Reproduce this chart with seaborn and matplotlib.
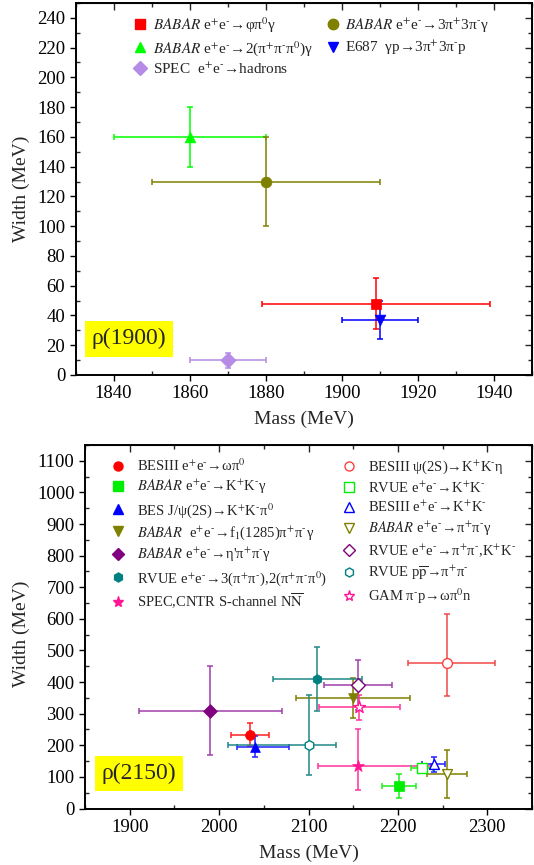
import matplotlib
matplotlib.use('Agg')
import matplotlib.pyplot as plt
from matplotlib.lines import Line2D
from matplotlib.ticker import MultipleLocator
import seaborn as sns

# small pieces for the reaction labels (short hyphen as superscript minus)
P = '$^{+}$'
M = '$^{\u2010}$'
Z = '$^{0}$'
EE = 'e' + P + 'e' + M + '→'
BABAR = r'$\mathit{BABAR}$'

# rho(1900) panel, legend order (column 1 then column 2)
top_labels = [BABAR + ' ' + EE + 'φπ' + Z + 'γ',
              BABAR + ' ' + EE + '2(π' + P + 'π' + M + 'π' + Z + ')γ',
              'SPEC  ' + EE + 'hadrons',
              BABAR + ' ' + EE + '3π' + P + '3π' + M + 'γ',
              'E687  γp→3π' + P + '3π' + M + 'p']
top_mass = [1909, 1860, 1870, 1880, 1910]
top_mass_err = [30, 20, 10, 30, 10]
top_width = [48, 160, 10, 130, 37]
top_width_err = [17, 20, 5, 30, 13]
top_colors = ['#FF0000', '#00FF00', '#B58BE6', '#808000', '#0000FF']
top_markers = ['s', '^', 'D', 'o', 'v']

# rho(2150) panel
bot_labels = ['BESIII ' + EE + 'ωπ' + Z,
              BABAR + ' ' + EE + 'K' + P + 'K' + M + 'γ',
              'BES J/ψ(2S)→K' + P + 'K' + M + 'π' + Z,
              BABAR + '  ' + EE + 'f$_1$(1285)π' + P + 'π' + M + 'γ',
              BABAR + ' ' + EE + "η'π" + P + 'π' + M + 'γ',
              'RVUE ' + EE + '3(π' + P + 'π' + M + '),2(π' + P + 'π' + M + 'π' + Z + ')',
              r'SPEC,CNTR S-channel N$\overline{\mathrm{N}}$',
              'BESIII ψ(2S)→K' + P + 'K' + M + 'η',
              'RVUE ' + EE + 'K' + P + 'K' + M,
              'BESIII ' + EE + 'K' + P + 'K' + M,
              BABAR + ' ' + EE + 'π' + P + 'π' + M + 'γ',
              'RVUE ' + EE + 'π' + P + 'π' + M + ',K' + P + 'K' + M,
              r'RVUE p$\overline{\mathrm{p}}$→π' + P + 'π' + M,
              'GAM π' + M + 'p→ωπ' + Z + 'n']
bot_mass = [2034, 2201, 2040, 2150, 1990, 2110, 2155, 2255, 2227, 2240, 2255, 2155, 2100, 2157]
bot_mass_lo = [21, 19, 20, 64, 80, 50, 44, 44, 12, 13, 22, 38, 90, 45]
bot_mass_hi = [22, 19, 38, 64, 80, 50, 82, 54, 12, 13, 22, 38, 31, 45]
bot_width = [234, 70, 196, 350, 310, 410, 135, 460, 127, 140, 109, 390, 200, 320]
bot_width_lo = [37, 38, 34, 64, 140, 100, 76, 103, 8, 24, 75, 79, 95, 40]
bot_width_hi = [38, 38, 33, 64, 140, 100, 115, 155, 8, 24, 76, 79, 160, 40]
bot_colors = ['#FF0000', '#00EE00', '#0000FF', '#808000', '#800080', '#008080', '#FF1493',
              '#FF4040', '#00EE00', '#0000FF', '#808000', '#800080', '#008080', '#FF1493']
bot_ecolors = ['#FF2020', '#20EE20', '#2020FF', '#808000', '#A040A8', '#208888', '#FF3399',
               '#F04848', '#20EE20', '#2020FF', '#808000', '#A040A8', '#208888', '#FF3399']
bot_markers = ['o', 's', '^', 'v', 'D', 'h', '*', 'o', 's', '^', 'v', 'D', 'h', '*']
bot_filled = [True] * 7 + [False] * 7

sns.set_style('ticks')
plt.rcParams['font.family'] = ['Liberation Serif', 'DejaVu Serif']
plt.rcParams['mathtext.fontset'] = 'stix'

fig = plt.figure(figsize=(5.34, 8.65), dpi=100)
ax1 = fig.add_axes([0.1416, 0.5665, 0.8547, 0.4301])
ax2 = fig.add_axes([0.1592, 0.0653, 0.8371, 0.4202])


def style_axes(ax, xmaj, xmin, ymaj, ymin):
    for s in ax.spines.values():
        s.set_visible(True)
        s.set_linewidth(1.4)
        s.set_color('black')
    ax.xaxis.set_major_locator(MultipleLocator(xmaj))
    ax.xaxis.set_minor_locator(MultipleLocator(xmin))
    ax.yaxis.set_major_locator(MultipleLocator(ymaj))
    ax.yaxis.set_minor_locator(MultipleLocator(ymin))
    ax.tick_params(which='major', direction='out', length=4.5, width=1.0,
                   labelsize=13.5, pad=3, colors='black')
    ax.tick_params(which='minor', direction='in', length=3, width=1.0)
    top = ax.secondary_xaxis('top')
    top.xaxis.set_major_locator(MultipleLocator(xmaj))
    top.xaxis.set_minor_locator(MultipleLocator(xmin))
    top.tick_params(which='major', direction='in', length=5, width=1.0, labeltop=False)
    top.tick_params(which='minor', direction='in', length=3, width=1.0)
    right = ax.secondary_yaxis('right')
    right.yaxis.set_major_locator(MultipleLocator(ymaj))
    right.yaxis.set_minor_locator(MultipleLocator(ymin))
    right.tick_params(which='major', direction='in', length=5, width=1.0, labelright=False)
    right.tick_params(which='minor', direction='in', length=3, width=1.0)
    ax.set_xlabel('Mass (MeV)', fontsize=14, labelpad=6)
    ax.set_ylabel('Width (MeV)', fontsize=14)
    ax.grid(False)


# --- top panel: rho(1900)
handles = []
for i in range(len(top_mass)):
    ax1.errorbar(top_mass[i], top_width[i], xerr=top_mass_err[i], yerr=top_width_err[i],
                 fmt='none', ecolor=top_colors[i], elinewidth=1.1, capsize=2, capthick=1.1, zorder=2)
    sns.scatterplot(x=[top_mass[i]], y=[top_width[i]], marker=top_markers[i], s=60,
                    color=top_colors[i], edgecolor=top_colors[i], linewidth=0.5,
                    zorder=3, legend=False, ax=ax1)
    handles.append(Line2D([], [], ls='none', marker=top_markers[i], color=top_colors[i],
                          markersize=7.5))

ax1.set_xlim(1830, 1950)
ax1.set_ylim(0, 250)
style_axes(ax1, 20, 10, 20, 10)
ax1.yaxis.set_label_coords(-0.101, 0.5)
ax1.legend(handles, top_labels, ncol=2, loc='upper left', bbox_to_anchor=(0.125, 0.967),
           frameon=False, fontsize=11, handlelength=1.0, handletextpad=0.3,
           columnspacing=0.8, labelspacing=0.25, borderpad=0, borderaxespad=0)
ax1.text(0.117, 0.097, 'ρ(1900)', transform=ax1.transAxes, fontsize=17,
         ha='center', va='center',
         bbox=dict(boxstyle='square,pad=0.3', facecolor='#FFFF00', edgecolor='none'))

# --- bottom panel: rho(2150)
handles = []
for i in range(len(bot_mass)):
    ax2.errorbar(bot_mass[i], bot_width[i],
                 xerr=[[bot_mass_lo[i]], [bot_mass_hi[i]]],
                 yerr=[[bot_width_lo[i]], [bot_width_hi[i]]],
                 fmt='none', ecolor=bot_ecolors[i], elinewidth=1.1, capsize=2, capthick=1.1, zorder=2)
    fc = bot_colors[i] if bot_filled[i] else 'white'
    sz = 80 if bot_markers[i] == '*' else 50
    sns.scatterplot(x=[bot_mass[i]], y=[bot_width[i]], marker=bot_markers[i], s=sz,
                    color=bot_colors[i], facecolor=fc, edgecolor=bot_colors[i],
                    linewidth=0.5 if bot_filled[i] else 1.0,
                    zorder=3, legend=False, ax=ax2)
    handles.append(Line2D([], [], ls='none', marker=bot_markers[i], color=bot_colors[i],
                          markerfacecolor=fc, markeredgecolor=bot_colors[i],
                          markersize=8 if bot_markers[i] == '*' else 6.5))

ax2.set_xlim(1850, 2350)
ax2.set_ylim(0, 1150)
style_axes(ax2, 100, 50, 100, 50)
ax2.yaxis.set_label_coords(-0.123, 0.48)
ax2.legend(handles, bot_labels, ncol=2, loc='upper left', bbox_to_anchor=(0.058, 0.967),
           frameon=False, fontsize=10.5, handlelength=1.0, handletextpad=0.8,
           columnspacing=1.0, labelspacing=0.3, borderpad=0, borderaxespad=0)
ax2.text(0.121, 0.096, 'ρ(2150)', transform=ax2.transAxes, fontsize=17,
         ha='center', va='center',
         bbox=dict(boxstyle='square,pad=0.3', facecolor='#FFFF00', edgecolor='none'))

fig.savefig('out.png', dpi=100)
